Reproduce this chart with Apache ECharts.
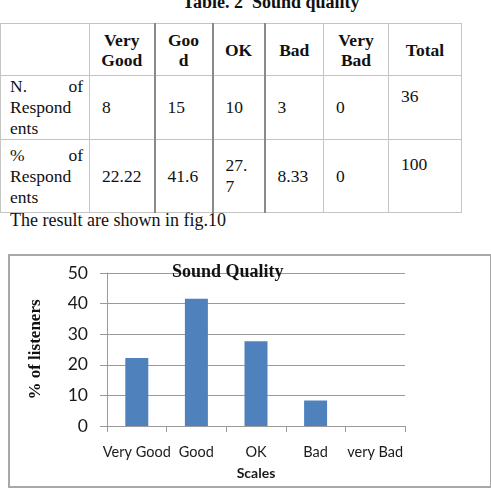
<!DOCTYPE html>
<html>
<head>
<meta charset="utf-8">
<script src="https://cdn.jsdelivr.net/npm/echarts@6/dist/echarts.min.js"></script>
<style>
    html, body { margin: 0; padding: 0; background: #fff; }
    body { width: 491px; height: 495px; position: relative; overflow: hidden; font-family: 'Liberation Serif', 'DejaVu Serif', serif; color: #111; }
    .caption { position: absolute; left: 0; width: 542px; top: -7px; text-align: center; font-weight: bold; font-size: 18px; line-height: 18px; }
    table { position: absolute; left: 0; top: 23px; border-collapse: collapse; font-size: 17.5px; line-height: 21px; table-layout: fixed; }
    td { border: 1px solid #c4c4c4; padding: 0 0 0 12px; vertical-align: middle; text-align: left; }
    td.hd { font-weight: bold; text-align: center; padding: 0; line-height: 20px; }
    td.first { padding: 0 6px 0 9px; vertical-align: top; }
    td.first .j { text-align: justify; text-align-last: justify; }
    td.tot { vertical-align: top; }
    td.dark { border-left: 2px solid #8a8a8a; }
    .note { position: absolute; left: 10px; top: 210px; font-size: 18px; line-height: 21px; }
    .frame { position: absolute; left: 8px; top: 254px; width: 480px; height: 230px; border: 2px solid #a8a8a8; }
    #chart { position: absolute; left: 0; top: 0; width: 491px; height: 495px; }
</style>
</head>
<body>
<div class="caption">Table. 2&nbsp; Sound quality</div>
<table id="tbl"></table>
<div class="note">The result are shown in fig.10</div>
<div class="frame"></div>
<div id="chart"></div>
<script>
    // table data
    const headers = ['Very<br>Good', 'Goo<br>d', 'OK', 'Bad', 'Very<br>Bad', 'Total']
    const counts = ['8', '15', '10', '3', '0']
    const countTotal = '36'
    const percentTexts = ['22.22', '41.6', '27.<br>7', '8.33', '0']
    const percentTotal = '100'

    // chart data
    const categories = ['Very Good', 'Good', 'OK', 'Bad', 'very Bad']
    const percents = [22.22, 41.6, 27.7, 8.33, 0]
    const yTicks = [0, 10, 20, 30, 40, 50]

    const colWidths = [89, 65, 58, 52, 59, 65, 73]
    const darkCols = [2, 3, 4]

    const tbl = document.getElementById('tbl')
    let html = '<colgroup>' + colWidths.map(w => `<col style="width:${w}px">`).join('') + '</colgroup>'
    const cls = i => darkCols.includes(i) ? ' dark' : ''
    html += '<tr style="height:52px"><td class="hd"></td>' +
        headers.map((h, i) => `<td class="hd${cls(i + 1)}">${h}</td>`).join('') + '</tr>'
    html += '<tr style="height:62px"><td class="first"><div class="j">N. of</div><div>Respond</div><div>ents</div></td>' +
        counts.map((c, i) => `<td class="${cls(i + 1)}">${c}</td>`).join('') +
        `<td class="tot" style="padding-top:10px">${countTotal}</td></tr>`
    html += '<tr style="height:73px"><td class="first" style="padding-top:5px"><div class="j">% of</div><div>Respond</div><div>ents</div></td>' +
        percentTexts.map((c, i) => `<td class="${cls(i + 1)}">${c}</td>`).join('') +
        `<td class="tot" style="padding-top:14px">${percentTotal}</td></tr>`
    tbl.innerHTML = html

    const chart = echarts.init(document.getElementById('chart'))
    chart.setOption({
        animation: false,
        title: {
            text: 'Sound Quality',
            left: 167,
            top: 258,
            textStyle: {
                fontFamily: 'Liberation Serif',
                fontWeight: 'bold',
                fontSize: 18,
                color: '#111'
            }
        },
        grid: {
            left: 107,
            right: 86,
            top: 273,
            bottom: 69
        },
        xAxis: {
            type: 'category',
            data: categories,
            name: 'Scales',
            nameLocation: 'middle',
            nameGap: 40,
            nameTextStyle: {
                fontFamily: 'Lato',
                fontWeight: 'bold',
                fontSize: 14,
                color: '#1a1a1a'
            },
            axisLine: { lineStyle: { color: '#9a9a9a', width: 1 } },
            axisTick: { show: true, length: 6, lineStyle: { color: '#9a9a9a' } },
            axisLabel: {
                interval: 0,
                margin: 19,
                fontFamily: 'Lato',
                fontSize: 14.5,
                color: '#1a1a1a'
            }
        },
        yAxis: {
            type: 'value',
            min: yTicks[0],
            max: yTicks[yTicks.length - 1],
            interval: yTicks[1] - yTicks[0],
            name: '% of listeners',
            nameLocation: 'middle',
            nameGap: 63,
            nameTextStyle: {
                fontFamily: 'Liberation Serif',
                fontWeight: 'bold',
                fontSize: 17,
                color: '#111'
            },
            axisLine: { show: true, lineStyle: { color: '#9a9a9a', width: 1 } },
            axisTick: { show: true, length: 7, lineStyle: { color: '#9a9a9a' } },
            axisLabel: {
                margin: 19,
                fontFamily: 'Lato',
                fontSize: 17.5,
                color: '#1a1a1a'
            },
            splitLine: { lineStyle: { color: '#9a9a9a', width: 1 } }
        },
        series: [{
            type: 'bar',
            data: percents,
            barWidth: 23,
            itemStyle: { color: '#4f81bd' }
        }]
    })
</script>
</body>
</html>
